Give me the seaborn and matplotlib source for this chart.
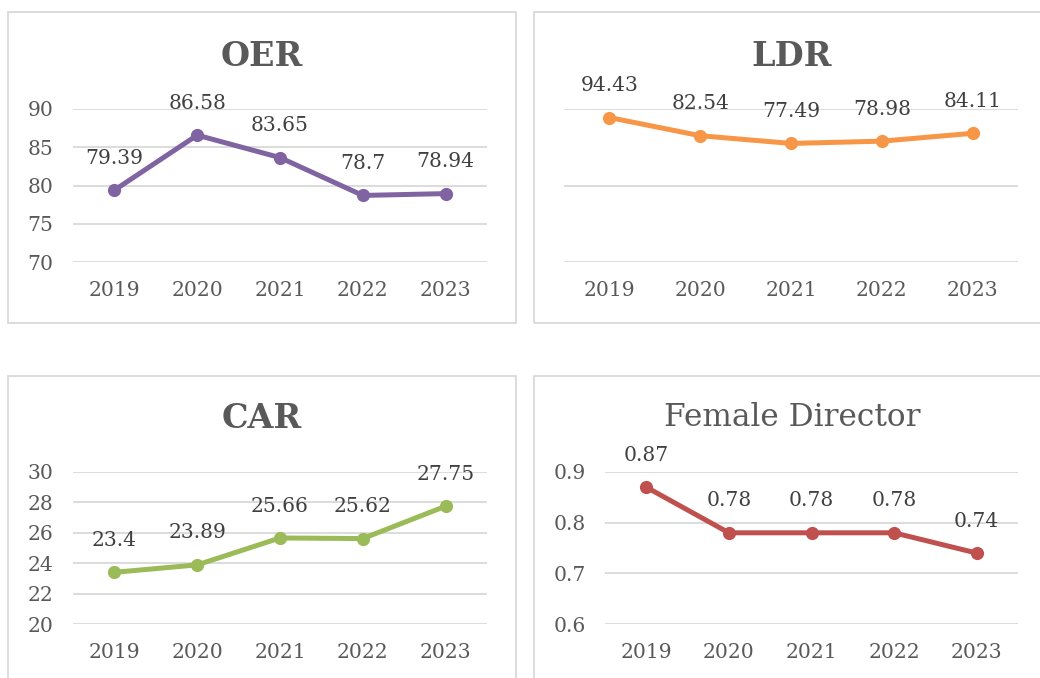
import matplotlib
matplotlib.use("Agg")
import matplotlib.pyplot as plt
import matplotlib.patches as patches
import seaborn as sns
import pandas as pd

years = ["2019", "2020", "2021", "2022", "2023"]
oer = [79.39, 86.58, 83.65, 78.70, 78.94]
ldr = [94.43, 82.54, 77.49, 78.98, 84.11]
car = [23.40, 23.89, 25.66, 25.62, 27.75]
female = [0.87, 0.78, 0.78, 0.78, 0.74]

oer_labels = ["79.39", "86.58", "83.65", "78.7", "78.94"]
ldr_labels = ["94.43", "82.54", "77.49", "78.98", "84.11"]
car_labels = ["23.4", "23.89", "25.66", "25.62", "27.75"]
female_labels = ["0.87", "0.78", "0.78", "0.78", "0.74"]

sns.set_style("white")
plt.rcParams["font.family"] = ["DejaVu Serif", "DejaVu Sans"]

W, H = 1040, 678
fig = plt.figure(figsize=(W / 100, H / 100), dpi=100)
TXT = "#595959"
LBL = "#404040"
GRID = "#D9D9D9"


def px_axes(l, r, t, b):
    return fig.add_axes([l / W, 1 - b / H, (r - l) / W, (b - t) / H])


def border(l, r, t, b):
    fig.patches.append(patches.Rectangle((l / W, 1 - b / H), (r - l) / W, (b - t) / H,
                                         transform=fig.transFigure, fill=False,
                                         edgecolor=GRID, linewidth=1.3))


panels = [
    dict(vals=oer, labels=oer_labels, color="#8064A2", title="OER", bold=True,
         ax=(73, 487, 109, 262), box=(8, 516, 12, 323), tpos=(262, 57),
         yticks=[70, 75, 80, 85, 90], ylim=(70, 90), showy=True),
    dict(vals=ldr, labels=ldr_labels, color="#F79646", title="LDR", bold=True,
         ax=(564, 1018, 109, 262), box=(534, 1044, 12, 323), tpos=(792, 57),
         yticks=[0, 50, 100], ylim=(0, 100), showy=False),
    dict(vals=car, labels=car_labels, color="#9BBB59", title="CAR", bold=True,
         ax=(73, 487, 472, 624), box=(8, 516, 376, 690), tpos=(262, 418),
         yticks=[20, 22, 24, 26, 28, 30], ylim=(20, 30), showy=True),
    dict(vals=female, labels=female_labels, color="#C0504D", title="Female Director", bold=False,
         ax=(605, 1018, 472, 624), box=(534, 1044, 376, 690), tpos=(792, 418),
         yticks=[0.6, 0.7, 0.8, 0.9], ylim=(0.6, 0.9), showy=True),
]

for p in panels:
    border(*p["box"])
    ax = px_axes(*p["ax"])
    df = pd.DataFrame({"year": years, "value": p["vals"]})
    sns.lineplot(data=df, x="year", y="value", ax=ax, color=p["color"],
                 linewidth=3.6, marker="o", markersize=9.5, markeredgewidth=0,
                 sort=False, clip_on=False, zorder=3)
    ax.set_xlim(-0.5, 4.5)
    ax.set_ylim(*p["ylim"])
    ax.set_yticks(p["yticks"])
    if p["ylim"][1] < 1:
        ax.set_yticklabels([f"{t:.1f}" for t in p["yticks"]])
    else:
        ax.set_yticklabels([f"{t:g}" for t in p["yticks"]])
    if not p["showy"]:
        ax.set_yticklabels([])
    ax.grid(axis="y", color=GRID, linewidth=1.3)
    ax.grid(axis="x", visible=False)
    for s in ax.spines.values():
        s.set_visible(False)
    ax.tick_params(axis="both", length=0, labelsize=14.6, labelcolor=TXT)
    ax.tick_params(axis="x", pad=14)
    ax.tick_params(axis="y", pad=14)
    ax.set_xlabel("")
    ax.set_ylabel("")
    for i, (v, lab) in enumerate(zip(p["vals"], p["labels"])):
        ax.annotate(lab, (i, v), xytext=(0, 23), textcoords="offset points",
                    ha="center", va="center", fontsize=14.6, color=LBL,
                    annotation_clip=False, zorder=4)
    fig.text(p["tpos"][0] / W, 1 - p["tpos"][1] / H, p["title"], ha="center", va="center",
             fontsize=24 if p["bold"] else 22.5, color=TXT,
             fontweight="bold" if p["bold"] else "normal")

fig.savefig("out.png", dpi=100, facecolor="white")
